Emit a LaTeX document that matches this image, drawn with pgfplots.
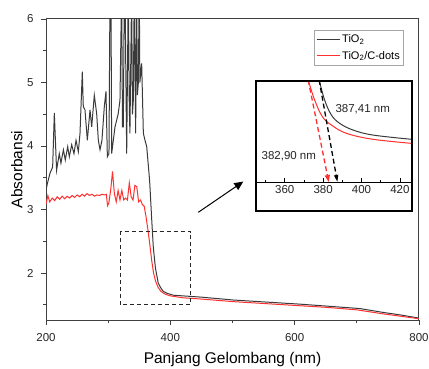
\documentclass[border=0pt]{standalone}
\usepackage{fontspec}
\setmainfont{Liberation Sans}
\usepackage{pgfplots}
\usepackage{pgfplotstable}
\pgfplotsset{compat=1.18}
\usetikzlibrary{arrows.meta}

\definecolor{tio}{HTML}{3A3A3A}
\definecolor{cdot}{HTML}{FF3030}

% UV-Vis absorbance, TiO2
\pgfplotstableread{
x y
200 3.30
202 3.40
206.4 3.57
210.7 3.67
213.4 4.52
217 3.62
221.4 3.88
224 3.73
228 3.94
231 3.78
234.9 3.99
237.5 3.83
241.3 4.02
245 3.88
248.3 4.09
252 3.91
254.7 4.20
258.4 5.17
260 4.62
262.7 4.57
266.5 4.09
270.8 4.57
273.5 4.30
277.7 4.80
281.5 4.51
284.2 4.09
286.9 3.94
290 4.09
293.8 4.62
296.5 4.86
298.7 3.83
301.3 3.88
303 6.50
304.5 6.50
305.6 3.88
311 4.30
316 4.50
319 4.72
321.7 6.50
323 4.30
324.4 4.30
326 6.50
327 6.50
329.8 3.88
332.4 6.50
334 4.60
335 4.20
337.8 6.50
339 4.50
340.5 4.72
342 6.50
344.2 4.20
345.8 6.50
347 4.80
348.5 4.99
350 6.50
351 5.00
353.9 5.30
356.6 4.20
359.2 4.09
362 3.99
365.7 3.57
367 3.40
370 2.85
372.6 2.41
376 2.08
380.6 1.84
385 1.76
388.7 1.71
395 1.68
405 1.65
450 1.62
501 1.575
550 1.545
608 1.51
650 1.48
705 1.44
742 1.38
770 1.34
800 1.29
}\tiodata

% UV-Vis absorbance, TiO2/C-dots
\pgfplotstableread{
x y
200 3.08
203 3.22
206 3.12
210 3.18
214 3.14
218 3.20
222 3.16
226 3.21
230 3.17
234 3.21
238 3.18
242 3.22
246 3.19
250 3.23
254 3.20
258 3.24
262 3.21
266 3.25
270 3.22
274 3.24
278 3.21
282 3.23
286 3.22
290 3.24
294 3.23
297 3.24
299 3.06
301 3.10
304 3.30
307 3.60
310 3.25
313 3.12
316 3.30
319 3.15
322 3.30
325 3.15
328 3.18
331 3.15
334 3.42
337 3.20
340 3.15
343 3.38
346 3.36
349 3.12
352 3.15
355 3.08
358 3.05
361 2.88
364 2.68
367 2.45
370 2.20
373 2.00
376 1.88
380 1.78
385 1.71
391 1.67
400 1.64
420 1.61
450 1.59
500 1.55
550 1.52
600 1.49
650 1.46
700 1.42
740 1.36
770 1.32
800 1.28
}\cdotdata

% Absorption edge (enlarged)
\pgfplotstableread{
x y
376.8 11.0
377.9 10.1
380.8 8.1
384.3 6.63
388.6 5.81
395.5 5.15
405.9 4.65
426.5 4.22
}\tioedge

\pgfplotstableread{
x y
371.0 11.0
372.2 10.1
375.6 8.1
379.6 6.47
384.3 5.64
392.1 4.82
405.9 4.23
426.5 3.82
}\cdotedge

\begin{document}
\begin{tikzpicture}
\useasboundingbox (0pt,0pt) rectangle (429pt,368pt);
\begin{axis}[
  at={(46pt,48pt)}, anchor=south west,
  scale only axis, width=373pt, height=301pt,
  xmin=200, xmax=800, ymin=1.26, ymax=6,
  xtick={200,400,600,800}, minor xtick={300,500,700},
  ytick={2,3,4,5,6}, minor ytick={1.5,2.5,3.5,4.5,5.5},
  tick align=outside, xtick pos=bottom, ytick pos=left,
  major tick length=5pt, minor tick length=3pt,
  axis line style={black!75, line width=1pt},
  tick style={black!75, line width=0.9pt},
  /pgf/number format/assume math mode=true,
  tick label style={font=\fontsize{11.5}{13}\selectfont, text=black!85},
  xticklabel style={yshift=-5pt},
  yticklabel style={xshift=-4pt},
  xlabel={Panjang Gelombang (nm)},
  ylabel={Absorbansi},
  label style={font=\fontsize{15.5}{18}\selectfont},
  xlabel style={at={(axis description cs:0.5,-0.13)}, anchor=center},
  ylabel style={at={(axis description cs:-0.078,0.5)}, anchor=center},
  legend style={at={(0.96,0.9635)}, anchor=north east, draw=black!35,
    line width=0.6pt, font=\fontsize{11}{13}\selectfont,
    inner xsep=2pt, inner ysep=2.5pt, row sep=3pt, cells={anchor=west}},
  legend image code/.code={\draw[#1] (0pt,0pt) -- (23pt,0pt);},
]
\addplot[tio, line width=1pt] table[x=x,y=y] {\tiodata};
\addlegendentry{TiO\textsubscript{2}}
\addplot[cdot, line width=1pt] table[x=x,y=y] {\cdotdata};
\addlegendentry{TiO\textsubscript{2}/C-dots}
\draw[black!85, line width=0.9pt, dash pattern=on 4pt off 3pt]
  (axis cs:320,1.5) rectangle (axis cs:433,2.65);
\draw[black, line width=1pt, -{Triangle[length=9pt,width=8pt]}]
  (axis cs:445,2.956) -- (axis cs:517.4,3.44);
\end{axis}

\fill[white] (256pt,157pt) rectangle (412pt,287pt);
\begin{axis}[
  at={(256pt,186pt)}, anchor=south west,
  scale only axis, width=156pt, height=101pt,
  xmin=345, xmax=426.3, ymin=0, ymax=10,
  separate axis lines, axis x line*=bottom, hide y axis,
  xtick={360,380,400,420}, minor xtick={350,370,390,410},
  tick align=inside, major tick length=4pt, minor tick length=2.5pt,
  axis line style={black, line width=1pt},
  tick style={black, line width=0.8pt},
  /pgf/number format/assume math mode=true,
  tick label style={font=\fontsize{11.5}{13}\selectfont, text=black!85},
]
\addplot[tio, line width=1pt, smooth, tension=0.6] table[x=x,y=y] {\tioedge};
\addplot[cdot, line width=1pt, smooth, tension=0.6] table[x=x,y=y] {\cdotedge};
\addplot[cdot, line width=1.3pt, dash pattern=on 5pt off 3pt,
  -{Triangle[length=7pt,width=5pt]}] coordinates {(372.2,10.1) (382.9,0)};
\addplot[black, line width=1.3pt, dash pattern=on 5pt off 3pt,
  -{Triangle[length=7pt,width=4pt]}] coordinates {(377.9,10.1) (387.41,0)};
\node[font=\fontsize{11.5}{13}\selectfont, text=black!85] at (axis cs:400.6,7.23) {387,41 nm};
\node[font=\fontsize{11.5}{13}\selectfont, text=black!85] at (axis cs:362.1,2.57) {382,90 nm};
\end{axis}
\draw[black, line width=2.5pt] (256pt,157pt) rectangle (412pt,287pt);
\end{tikzpicture}
\end{document}
